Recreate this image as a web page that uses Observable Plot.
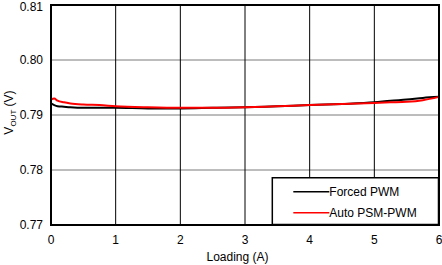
<!DOCTYPE html>
<html><head><meta charset="utf-8">
<script src="https://cdn.jsdelivr.net/npm/d3@7"></script>
<script src="https://cdn.jsdelivr.net/npm/@observablehq/plot@0.6"></script>
<style>
html,body{margin:0;padding:0;background:#fff;}
svg{display:block;}
</style>
</head><body><div id="chart"></div>
<script>
const loading = [0, 0.05, 0.1, 0.2, 0.3, 0.5, 0.75, 1, 1.5, 2, 2.5, 3, 3.5, 4, 4.5, 5, 5.25, 5.5, 5.75, 6];
const forcedPWM = [0.7921, 0.7918, 0.7916, 0.7915, 0.7914, 0.7913, 0.7913, 0.7913, 0.7912, 0.7912, 0.7913, 0.7914, 0.7916, 0.7918, 0.7920, 0.7923, 0.7926, 0.7928, 0.7931, 0.7933];
const autoPSM = [0.7928, 0.7930, 0.7926, 0.7923, 0.7921, 0.7919, 0.7918, 0.7916, 0.7914, 0.7913, 0.7913, 0.7914, 0.7916, 0.7918, 0.7920, 0.7922, 0.7923, 0.7924, 0.7927, 0.7933];
const xTicks = [0, 1, 2, 3, 4, 5, 6];
const yTicks = [0.77, 0.78, 0.79, 0.80, 0.81];
const seriesNames = ["Forced PWM", "Auto PSM-PWM"];
const seriesColors = ["#000000", "#ff0000"];

const forcedData = loading.map((x, i) => ({x, y: forcedPWM[i]}));
const autoData = loading.map((x, i) => ({x, y: autoPSM[i]}));

const plot = Plot.plot({
  width: 442,
  height: 265,
  marginLeft: 50.5,
  marginRight: 3.5,
  marginTop: 4.5,
  marginBottom: 40.5,
  style: {fontFamily: "Arial, 'Liberation Sans', sans-serif", fontSize: "12px", color: "#000", background: "#fff"},
  x: {domain: [0, 6], label: null},
  y: {domain: [0.77, 0.81], label: null},
  marks: [
    Plot.ruleY(yTicks.slice(1, -1), {stroke: "#7a7a7a", strokeWidth: 1}),
    Plot.ruleX(xTicks.slice(1, -1), {stroke: "#000", strokeWidth: 1}),
    Plot.line(forcedData, {x: "x", y: "y", stroke: seriesColors[0], strokeWidth: 2, curve: "monotone-x"}),
    Plot.line(autoData, {x: "x", y: "y", stroke: seriesColors[1], strokeWidth: 2, curve: "monotone-x"}),
    Plot.frame({stroke: "#000", strokeWidth: 2}),
    Plot.axisX({ticks: xTicks, tickSize: 0, tickPadding: 10, tickFormat: d => String(d), label: null}),
    Plot.axisY({ticks: yTicks.slice(0, -1), tickSize: 0, tickPadding: 8, tickFormat: d3.format(".2f"), label: null}),
    Plot.axisY({ticks: yTicks.slice(-1), tickSize: 0, tickPadding: 8, dy: 2.5, tickFormat: d3.format(".2f"), label: null})
  ]
});
document.getElementById("chart").appendChild(plot);

const svg = d3.select(plot);
const sx = plot.scale("x"), sy = plot.scale("y");
const x0 = sx.apply(0), x6 = sx.apply(6), yb = sy.apply(0.77), yt = sy.apply(0.81);

// Legend
const lx = sx.apply(3.43), ly = sy.apply(0.7785);
const lg = svg.append("g").attr("text-anchor", "start");
lg.append("rect").attr("x", lx).attr("y", ly).attr("width", x6 - lx).attr("height", yb - ly)
  .attr("fill", "#fff").attr("stroke", "#000").attr("stroke-width", 1.5);
seriesNames.forEach((name, i) => {
  const yy = ly + 14 + i * 21;
  lg.append("line").attr("x1", lx + 21).attr("x2", lx + 57).attr("y1", yy).attr("y2", yy)
    .attr("stroke", seriesColors[i]).attr("stroke-width", 1.5);
  lg.append("text").attr("x", lx + 57).attr("y", yy).attr("dy", "0.35em")
    .attr("font-size", 12).attr("fill", "#000").text(name);
});

// Axis labels
svg.append("text").attr("x", (x0 + x6) / 2 - 7).attr("y", 261)
  .attr("text-anchor", "middle").attr("font-size", 12).attr("fill", "#000").text("Loading (A)");
const yl = svg.append("text").attr("transform", `translate(13,${(yt + yb) / 2 - 2}) rotate(-90)`)
  .attr("text-anchor", "middle").attr("font-size", 12).attr("fill", "#000");
yl.append("tspan").text("V");
yl.append("tspan").attr("font-size", 8).attr("dy", 3).text("OUT");
yl.append("tspan").attr("dy", -3).text(" (V)");
</script>
</body></html>
